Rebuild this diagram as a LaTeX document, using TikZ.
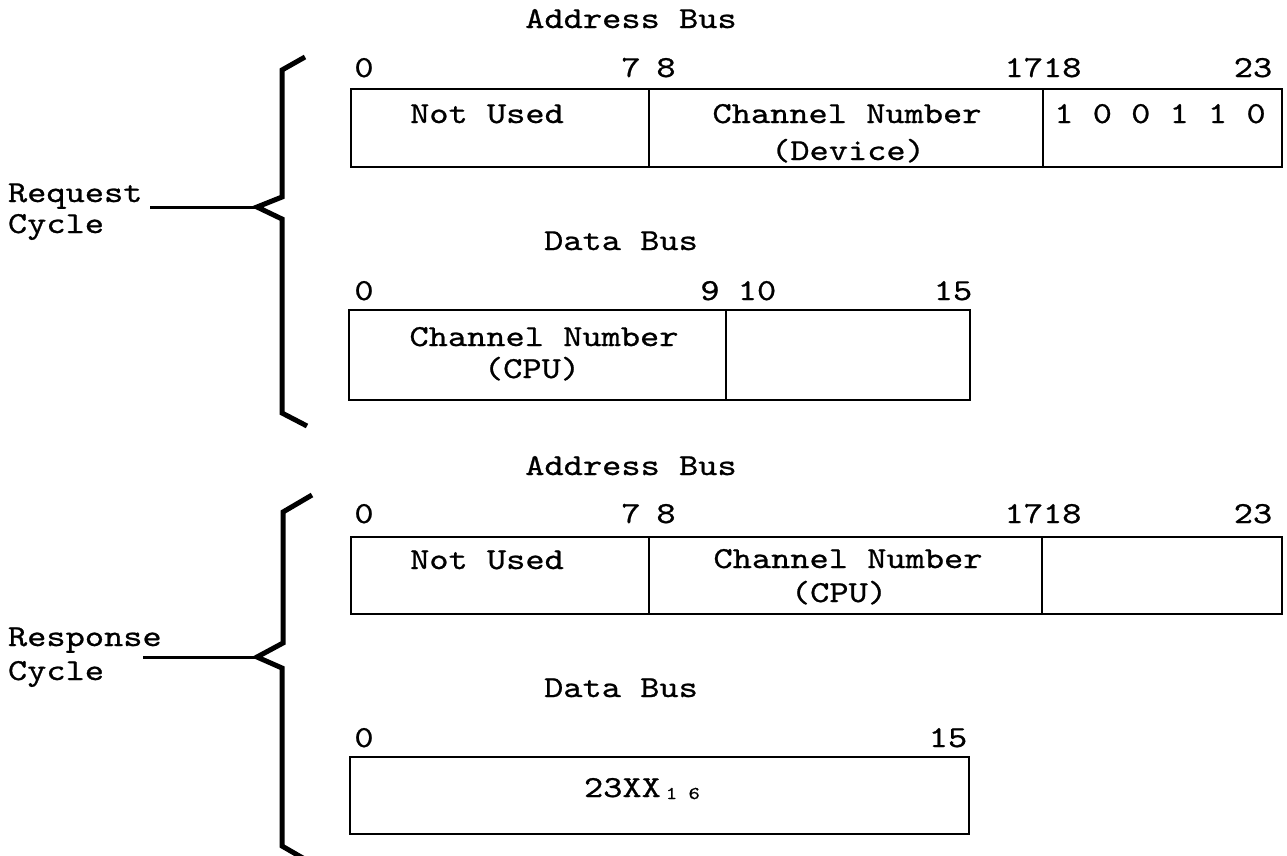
\documentclass[tikz,border=0pt]{standalone}
\usepackage{fontspec}
\newfontfamily\tw{lmmono10-regular}[Extension=.otf, FakeStretch=1.2, FakeBold=0.8]
\begin{document}
\begin{tikzpicture}[x=1pt,y=-1pt,
  txt/.style={font=\tw\fontsize{30.5}{36}\selectfont, inner sep=0pt, outer sep=0pt, anchor=base},
  txtl/.style={txt, anchor=base west},
  subtxt/.style={font=\tw\fontsize{18}{22}\selectfont, inner sep=0pt, outer sep=0pt, anchor=base west},
  fieldbox/.style={draw, rectangle, line width=2.4pt, inner sep=0pt, outer sep=0pt, anchor=north west},
  bracepath/.style={line width=5pt, line join=miter, line cap=butt},
  leadline/.style={line width=3pt}]
\useasboundingbox (0,0) rectangle (1287,855);

% ---------------- Request cycle ----------------
% address bus word
\node[txt] (ra-title) at (631,28) {Address Bus};
\node[txt] (ra-b0)  at (364,77)  {0};
\node[txt] (ra-b7)  at (631,77)  {7};
\node[txt] (ra-b8)  at (666,77)  {8};
\node[txt] (ra-b17) at (1043,77) {1718};
\node[txt] (ra-b23) at (1253,77) {23};
\node[fieldbox, minimum width=298, minimum height=78] (ra-f1) at (351,89) {};
\node[fieldbox, minimum width=394, minimum height=78] (ra-f2) at (649,89) {};
\node[fieldbox, minimum width=239, minimum height=78] (ra-f3) at (1043,89) {};
\node[txt] (ra-t1)  at (487,123)  {Not Used};
\node[txt] (ra-t2a) at (847,123)  {Channel Number};
\node[txt] (ra-t2b) at (848,160)  {(Device)};
\node[txt] (ra-t3)  at (1160,123) {1 0 0 1 1 0};

% data bus word
\node[txt] (rd-title) at (621,250) {Data Bus};
\node[txt] (rd-b0)  at (364,300) {0};
\node[txt] (rd-b9)  at (710,300) {9};
\node[txt] (rd-b10) at (757,300) {10};
\node[txt] (rd-b15) at (953,300) {15};
\node[fieldbox, minimum width=377, minimum height=90] (rd-f1) at (349,310) {};
\node[fieldbox, minimum width=244, minimum height=90] (rd-f2) at (726,310) {};
\node[txt] (rd-t1a) at (544,346) {Channel Number};
\node[txt] (rd-t1b) at (532,378) {(CPU)};

% brace and label
\node[txtl] (rq-l1) at (8,202) {Request};
\node[txtl] (rq-l2) at (8,233) {Cycle};
\coordinate (rq-lead) at (150,207);
\coordinate (rq-tip)  at (257,207);
\draw[bracepath] (305,57) -- (282,70) -- (282,197) -- (rq-tip) -- (282,219) -- (282,413) -- (307,426);
\draw[leadline] (rq-lead) -- (rq-tip);

% ---------------- Response cycle ----------------
% address bus word
\node[txt] (sa-title) at (631,475) {Address Bus};
\node[txt] (sa-b0)  at (364,523)  {0};
\node[txt] (sa-b7)  at (631,523)  {7};
\node[txt] (sa-b8)  at (666,523)  {8};
\node[txt] (sa-b17) at (1043,523) {1718};
\node[txt] (sa-b23) at (1253,523) {23};
\node[fieldbox, minimum width=298, minimum height=77] (sa-f1) at (351,537) {};
\node[fieldbox, minimum width=393, minimum height=77] (sa-f2) at (649,537) {};
\node[fieldbox, minimum width=240, minimum height=77] (sa-f3) at (1042,537) {};
\node[txt] (sa-t1)  at (487,569) {Not Used};
\node[txt] (sa-t2a) at (848,568) {Channel Number};
\node[txt] (sa-t2b) at (839,602) {(CPU)};

% data bus word
\node[txt] (sd-title) at (621,697) {Data Bus};
\node[txt] (sd-b0)  at (364,747) {0};
\node[txt] (sd-b15) at (948,747) {15};
\node[fieldbox, minimum width=619, minimum height=77] (sd-f1) at (350,757) {};
\node[txtl] (sd-t1) at (584,797) {23XX};
\node[subtxt] (sd-t1s) at ([xshift=5pt,yshift=-2pt]sd-t1.base east) {1 6};

% brace and label
\node[txtl] (rs-l1) at (8,646) {Response};
\node[txtl] (rs-l2) at (8,680) {Cycle};
\coordinate (rs-lead) at (143,657);
\coordinate (rs-tip)  at (257,657);
\draw[bracepath] (312,495) -- (283,512) -- (283,643) -- (rs-tip) -- (282,668) -- (282,846) -- (308,861);
\draw[leadline] (rs-lead) -- (rs-tip);
\end{tikzpicture}
\end{document}
